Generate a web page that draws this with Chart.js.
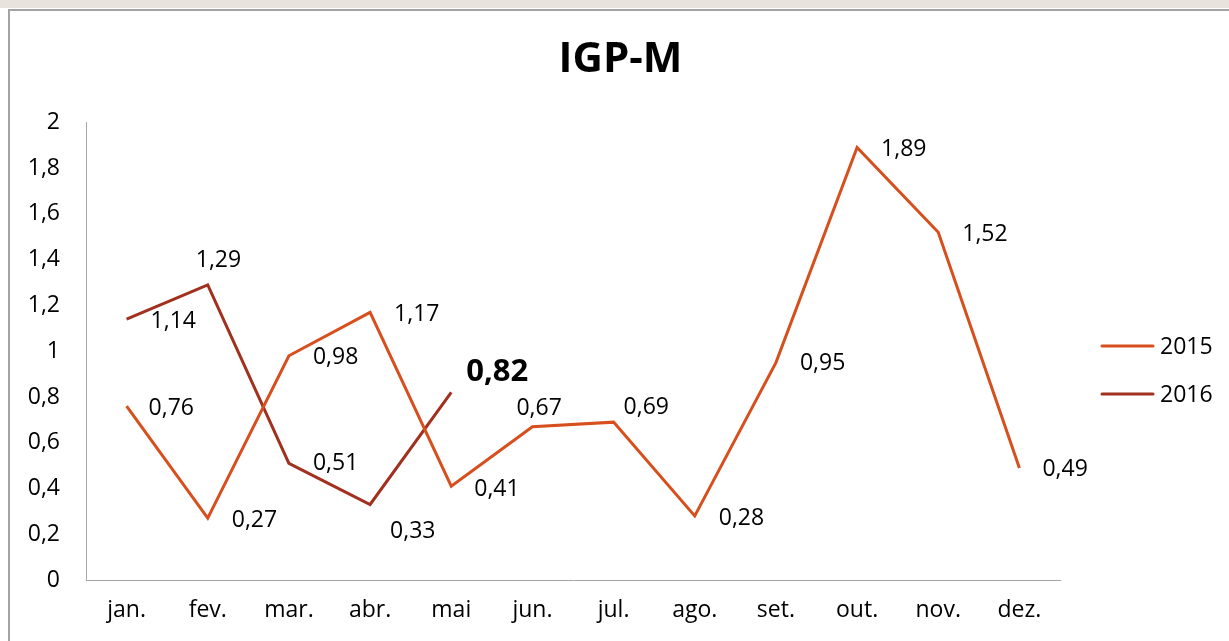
<!DOCTYPE html>
<html>
<head>
<meta charset="utf-8">
<script src="https://cdn.jsdelivr.net/npm/chart.js@4.4.0/dist/chart.umd.min.js"></script>
<style>
    body { margin: 0; background: #fff; width: 1229px; height: 641px; overflow: hidden; position: relative; }
    .faixa { position: absolute; left: 0; top: 0; width: 1229px; height: 8px; background: #e8e4dd; }
    .caixa { position: absolute; left: 8px; top: 9px; width: 1240px; height: 660px; border: 2px solid #a3a3a3; background: #fff; }
    #grafico { position: absolute; left: 0; top: 0; }
</style>
</head>
<body>
<div class="faixa"></div>
<div class="caixa"></div>
<canvas id="grafico" width="1229" height="641"></canvas>
<script>
// dados IGP-M (% ao mes)
var meses = ['jan.', 'fev.', 'mar.', 'abr.', 'mai', 'jun.', 'jul.', 'ago.', 'set.', 'out.', 'nov.', 'dez.'];
var igpm2015 = [0.76, 0.27, 0.98, 1.17, 0.41, 0.67, 0.69, 0.28, 0.95, 1.89, 1.52, 0.49];
var igpm2016 = [1.14, 1.29, 0.51, 0.33, 0.82];
var anos = ['2015', '2016'];
var yMin = 0, yMax = 2, yPasso = 0.2;

// posicao dos rotulos (deslocamento em px a partir do ponto)
var desloc2015 = [[22, 2], [24, 2], [24, 2], [24, 2], [23, 3], [-16, -18], [10, -15], [24, 3], [24, 1], [24, 2], [24, 2], [23, 2]];
var desloc2016 = [[24, 2], [-12, -24], [24, 0], [20, 27], [15, -20]];

var cores = ['#d64f1d', '#a2301f'];
var fonte = "'Open Sans', 'DejaVu Sans', sans-serif";

function virgula(v) {
    return (Math.round(v * 100) / 100).toString().replace('.', ',');
}

//rotulos dos pontos
var rotulos = {
    id: 'rotulos',
    afterDatasetsDraw: function (chart) {
        var ctx = chart.ctx;
        var desl = [desloc2015, desloc2016];
        ctx.save();
        ctx.fillStyle = '#000';
        ctx.textAlign = 'left';
        ctx.textBaseline = 'middle';
        chart.data.datasets.forEach(function (ds, d) {
            var meta = chart.getDatasetMeta(d);
            meta.data.forEach(function (pt, i) {
                var ultimo = (d === 1 && i === ds.data.length - 1);
                ctx.font = ultimo ? 'bold 31px ' + fonte : '23px ' + fonte;
                ctx.fillText(virgula(ds.data[i]), pt.x + desl[d][i][0], pt.y + desl[d][i][1]);
            });
        });
        ctx.restore();
    }
};

//legenda a direita
var legenda = {
    id: 'legenda',
    afterDraw: function (chart) {
        var ctx = chart.ctx;
        var x0 = chart.chartArea.right + 42;
        ctx.save();
        ctx.font = '23px ' + fonte;
        ctx.textBaseline = 'middle';
        ctx.fillStyle = '#000';
        anos.forEach(function (ano, i) {
            var y = 346 + i * 48;
            ctx.strokeStyle = cores[i];
            ctx.lineWidth = 3;
            ctx.lineCap = 'round';
            ctx.beginPath();
            ctx.moveTo(x0, y);
            ctx.lineTo(x0 + 51, y);
            ctx.stroke();
            ctx.fillText(ano, x0 + 58, y + 1);
        });
        ctx.restore();
    }
};

var ctx = document.getElementById('grafico').getContext('2d');
var chart = new Chart(ctx, {
    type: 'line',
    data: {
        labels: meses,
        datasets: [{
            label: anos[0],
            data: igpm2015,
            borderColor: cores[0],
            backgroundColor: cores[0],
            borderWidth: 3,
            pointRadius: 0,
            tension: 0
        }, {
            label: anos[1],
            data: igpm2016,
            borderColor: cores[1],
            backgroundColor: cores[1],
            borderWidth: 3,
            pointRadius: 0,
            tension: 0
        }]
    },
    options: {
        responsive: false,
        animation: false,
        layout: { padding: { left: 12, right: 0, top: 0, bottom: 0 } },
        plugins: {
            legend: { display: false },
            tooltip: { enabled: false },
            title: {
                display: true,
                text: 'IGP-M',
                color: '#000',
                font: { family: fonte, size: 42, weight: 'bold' },
                padding: { top: 35, bottom: 37 }
            }
        },
        scales: {
            x: {
                offset: true,
                grid: { display: false, drawTicks: false },
                border: { display: true, color: '#a6a6a6', width: 1 },
                ticks: { color: '#000', padding: 17, font: { family: fonte, size: 23 }, maxRotation: 0 },
                afterFit: function (scale) { scale.height = 61; }
            },
            y: {
                min: yMin,
                max: yMax,
                grid: { display: false, drawTicks: false },
                border: { display: true, color: '#a6a6a6', width: 1 },
                ticks: {
                    stepSize: yPasso,
                    color: '#000',
                    padding: 26,
                    font: { family: fonte, size: 23 },
                    callback: function (v) { return virgula(v); }
                },
                afterFit: function (scale) { scale.width = 74; }
            },
            // espaco da legenda (eixo vazio a direita)
            espaco: {
                type: 'linear',
                position: 'right',
                min: yMin,
                max: yMax,
                grid: { display: false, drawTicks: false },
                border: { display: false },
                ticks: { display: false },
                afterFit: function (scale) { scale.width = 169; }
            }
        }
    },
    plugins: [rotulos, legenda]
});
</script>
</body>
</html>
